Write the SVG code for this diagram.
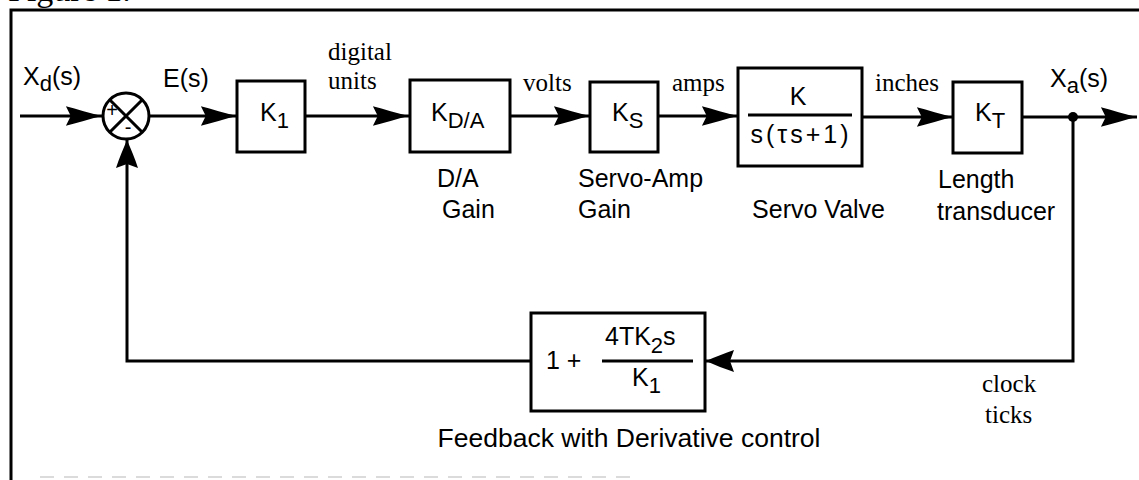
<svg xmlns="http://www.w3.org/2000/svg" width="1139" height="480" viewBox="0 0 1139 480">
<style>
.ln{fill:none;stroke:#000;stroke-width:3}
.bx{fill:#fff;stroke:#000;stroke-width:3}
.sans{font-family:"Liberation Sans",Arial,sans-serif;font-size:25px;fill:#000}
.serif{font-family:"Liberation Serif","Times New Roman",serif;font-size:25px;fill:#000}
.sub{font-size:22px}
</style>
<defs>
<marker id="ah" markerUnits="userSpaceOnUse" markerWidth="40" markerHeight="24" refX="0" refY="0" viewBox="-39 -12 41 24" orient="auto">
<path d="M0,0 C-12,-3 -26,-7 -37,-10 L-32,0 L-37,10 C-26,7 -12,3 0,0 Z" fill="#000"/>
</marker>
<marker id="ahs" markerUnits="userSpaceOnUse" markerWidth="32" markerHeight="26" refX="0" refY="0" viewBox="-30 -13 32 26" orient="auto">
<path d="M0,0 C-9,-4 -19,-8 -28,-11 L-24,0 L-28,11 C-19,8 -9,4 0,0 Z" fill="#000"/>
</marker>
</defs>
<rect width="1139" height="480" fill="#fff"/>
<text class="serif" x="8" y="1" style="font-size:34px">Figure 1.</text>
<path class="ln" d="M11,480 V10 H1139"/>
<line x1="40" y1="477" x2="640" y2="477" stroke="#d0d0d0" stroke-width="1.5" stroke-dasharray="14 10"/>
<g id="connectors">
<line class="ln" x1="20" y1="116" x2="102" y2="116" marker-end="url(#ah)"/>
<line class="ln" x1="150" y1="116" x2="237" y2="116" marker-end="url(#ah)"/>
<line class="ln" x1="305" y1="116" x2="409" y2="116" marker-end="url(#ah)"/>
<line class="ln" x1="510" y1="116" x2="590" y2="116" marker-end="url(#ah)"/>
<line class="ln" x1="658" y1="116" x2="738" y2="116" marker-end="url(#ah)"/>
<line class="ln" x1="862" y1="117" x2="953" y2="117" marker-end="url(#ah)"/>
<line class="ln" x1="1022" y1="117" x2="1137" y2="117" marker-end="url(#ah)"/>
<circle cx="1073" cy="117" r="5" fill="#000"/>
<polyline class="ln" points="1073,117 1073,361 706,361" marker-end="url(#ahs)"/>
<polyline class="ln" points="531,361 127,361 127,140" marker-end="url(#ahs)"/>
</g>
<g id="sum">
<circle class="bx" cx="126" cy="116" r="23"/>
<path class="ln" d="M109.7,99.7 L142.3,132.3 M109.7,132.3 L142.3,99.7"/>
<text class="sans" x="112" y="117" text-anchor="middle" style="font-size:20px">+</text>
<text class="sans" x="128" y="134" text-anchor="middle" style="font-size:20px">-</text>
</g>
<g id="labels-in">
<text class="sans" x="23" y="85">X<tspan class="sub" dy="6">d</tspan><tspan dy="-6">(s)</tspan></text>
<text class="sans" x="163" y="87">E(s)</text>
<text class="serif" x="328" y="60">digital</text>
<text class="serif" x="328" y="89">units</text>
<text class="serif" x="523" y="91">volts</text>
<text class="serif" x="672" y="91">amps</text>
<text class="serif" x="875" y="91">inches</text>
<text class="sans" x="1050" y="87">X<tspan class="sub" dy="6">a</tspan><tspan dy="-6">(s)</tspan></text>
</g>
<g id="k1">
<rect class="bx" x="237" y="81" width="68" height="71"/>
<text class="sans" x="260" y="121">K<tspan class="sub" dy="7">1</tspan></text>
</g>
<g id="kda">
<rect class="bx" x="410" y="80" width="100" height="72"/>
<text class="sans" x="431" y="121">K<tspan class="sub" dy="7">D/A</tspan></text>
<text class="sans" x="437" y="187">D/A</text>
<text class="sans" x="442" y="218">Gain</text>
</g>
<g id="ks">
<rect class="bx" x="590" y="82" width="68" height="70"/>
<text class="sans" x="612" y="121">K<tspan class="sub" dy="7">S</tspan></text>
<text class="sans" x="578" y="187">Servo-Amp</text>
<text class="sans" x="578" y="218">Gain</text>
</g>
<g id="valve">
<rect class="bx" x="738" y="68" width="124" height="98"/>
<text class="sans" x="798" y="105" text-anchor="middle">K</text>
<line class="ln" x1="748" y1="115" x2="852" y2="115"/>
<text class="sans" x="801" y="143" text-anchor="middle" letter-spacing="3">s(τs+1)</text>
<text class="sans" x="885" y="218" text-anchor="end">Servo Valve</text>
</g>
<g id="kt">
<rect class="bx" x="953" y="82" width="69" height="71"/>
<text class="sans" x="975" y="121">K<tspan class="sub" dy="7">T</tspan></text>
<text class="sans" x="938" y="188">Length</text>
<text class="sans" x="937" y="220">transducer</text>
</g>
<g id="feedback">
<rect class="bx" x="531" y="313" width="174" height="98"/>
<text class="sans" x="546" y="369">1 +</text>
<text class="sans" x="605" y="345">4TK<tspan class="sub" dy="8">2</tspan><tspan dy="-8">s</tspan></text>
<line class="ln" x1="602" y1="361" x2="693" y2="361"/>
<text class="sans" x="632" y="386">K<tspan class="sub" dy="7">1</tspan></text>
<text class="sans" x="629" y="447" text-anchor="middle" style="font-size:26.5px">Feedback with Derivative control</text>
<text class="serif" x="982" y="392">clock</text>
<text class="serif" x="985" y="423">ticks</text>
</g>
</svg>
